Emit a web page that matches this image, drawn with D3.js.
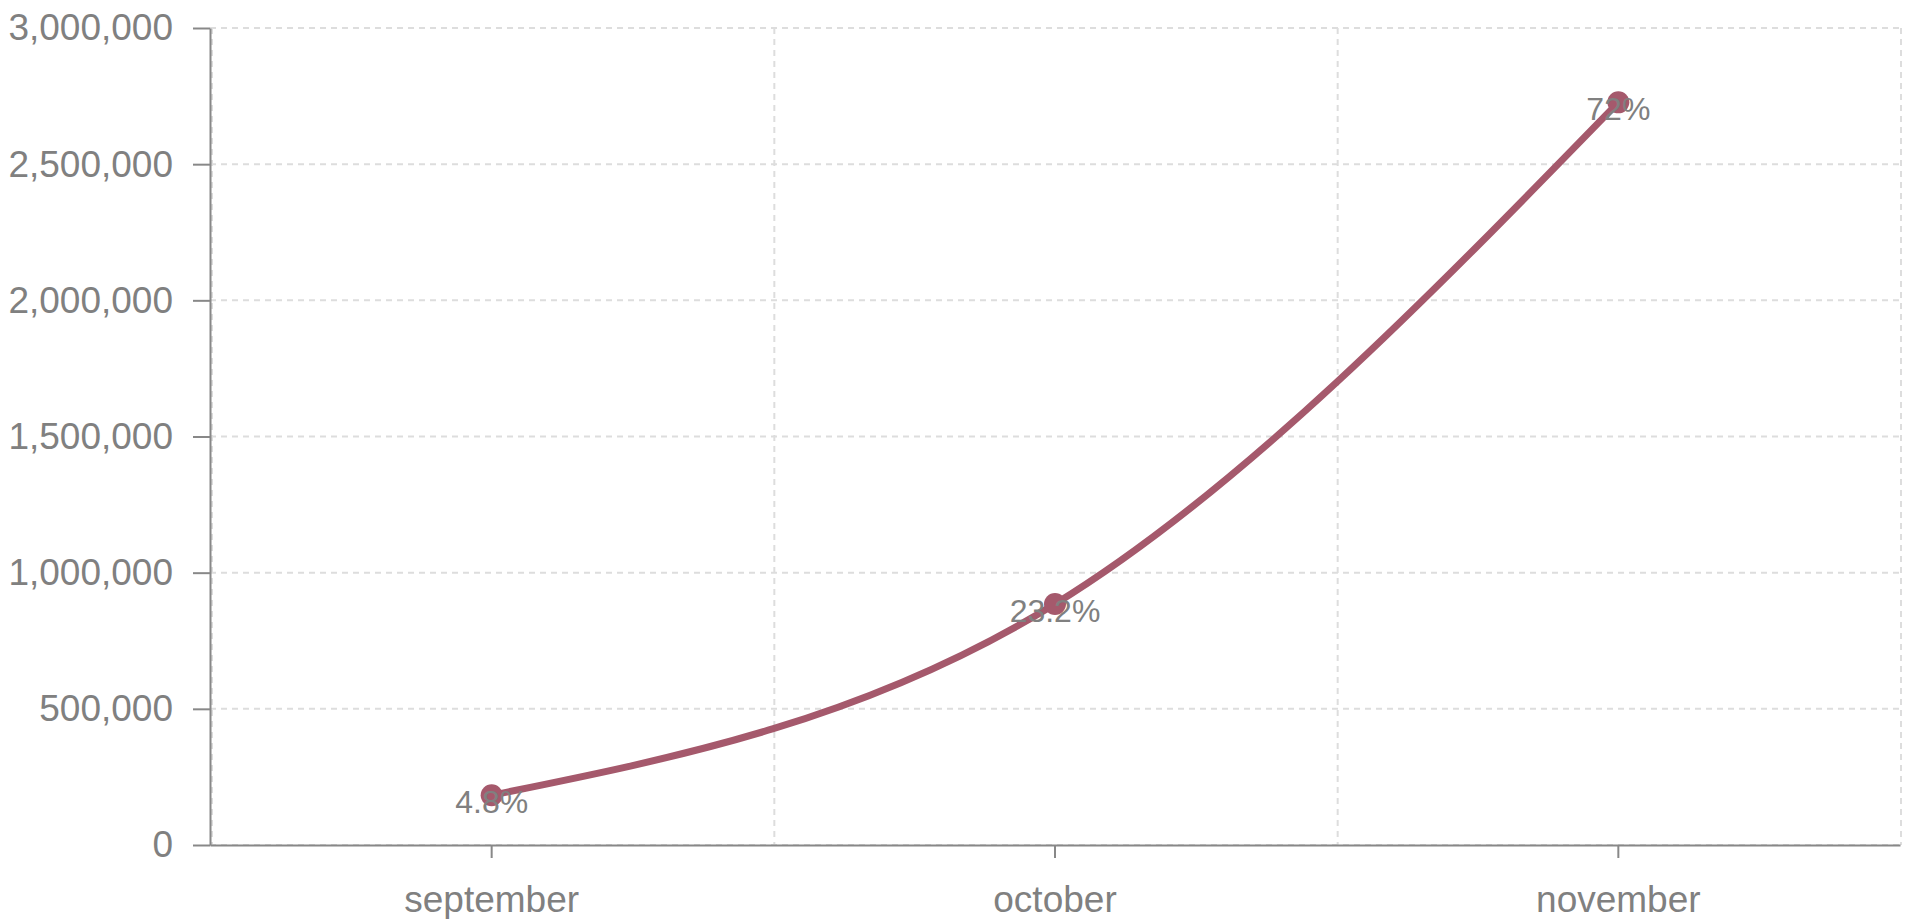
<!DOCTYPE html>
<html>
<head>
<meta charset="utf-8">
<script src="https://cdn.jsdelivr.net/npm/d3@7"></script>
<style>
  body { margin: 0; background: #fff; }
  svg text { font-family: "Liberation Sans", Arial, sans-serif; fill: #808080; }
  .axis path, .axis line { stroke: #888; stroke-width: 2; }
  .grid line { stroke: #ddd; stroke-width: 2; stroke-dasharray: 6,5; }
</style>
</head>
<body>
<svg id="chart1"></svg>
<script>
// chart values
let months = ["september", "october", "november"];
let users = [183000, 885000, 2727000];
let shares = ["4.8%", "23.2%", "72%"];
let yTicks = [0, 500000, 1000000, 1500000, 2000000, 2500000, 3000000];

let margin = [];
let xBand;
let yLinear;

document.addEventListener("DOMContentLoaded", (event) => {
  margin.width = 1915;
  margin.height = 919;
  margin.paddingLeft = 210;
  margin.paddingRight = 15;
  margin.paddingTop = 28;
  margin.paddingBottom = 74;

  let draw = new Draw();
  draw.render();
});

class Draw {
  createScale() {
    xBand = d3.scaleBand()
      .domain(months)
      .range([margin.paddingLeft, margin.width - margin.paddingRight])
      .padding(0);
    yLinear = d3.scaleLinear()
      .domain([0, 3000000])
      .range([margin.height - margin.paddingBottom, margin.paddingTop]);
  }
  render() {
    this.createScale();
    let svg = d3.select("#chart1")
      .attr("width", margin.width)
      .attr("height", margin.height);

    this.grid(svg);
    this.xAxis(svg);
    this.yAxis(svg);

    let cx = (d, i) => { return xBand(months[i]) + xBand.bandwidth() / 2; };
    let line = d3.line()
      .x(cx)
      .y((d) => { return yLinear(d); })
      .curve(d3.curveMonotoneX);

    svg.append("path")
      .datum(users)
      .attr("d", line)
      .attr("fill", "none")
      .attr("stroke", "#a5596c")
      .attr("stroke-width", 7)
      .attr("stroke-linecap", "round");

    svg.selectAll("circle.dot")
      .data(users)
      .enter()
      .append("circle")
        .attr("class", "dot")
        .attr("cx", cx)
        .attr("cy", (d) => { return yLinear(d); })
        .attr("r", 11)
        .attr("fill", "#a5596c");

    svg.selectAll("text.share")
      .data(users)
      .enter()
      .append("text")
        .attr("class", "share")
        .attr("x", cx)
        .attr("y", (d) => { return yLinear(d) + 18; })
        .style("text-anchor", "middle")
        .style("font-size", "32px")
        .text((d, i) => { return shares[i]; });
  }
  grid(svg) {
    let g = svg.append("g").attr("class", "grid");
    let x0 = margin.paddingLeft;
    let x1 = margin.width - margin.paddingRight;
    // horizontal dashes at every y tick
    g.selectAll("line.h")
      .data(yTicks)
      .enter()
      .append("line")
        .attr("class", "h")
        .attr("x1", x0)
        .attr("x2", x1)
        .attr("y1", (d) => { return yLinear(d); })
        .attr("y2", (d) => { return yLinear(d); });
    // vertical dashes on band edges
    let edges = months.map((m) => { return xBand(m); }).concat([x1]);
    g.selectAll("line.v")
      .data(edges)
      .enter()
      .append("line")
        .attr("class", "v")
        .attr("x1", (d, i) => { return i == 0 ? d + 2 : d + 1; })
        .attr("x2", (d, i) => { return i == 0 ? d + 2 : d + 1; })
        .attr("y1", yLinear(3000000))
        .attr("y2", yLinear(0));
  }
  xAxis(svg) {
    let axis = d3.axisBottom(xBand)
      .tickSize(13)
      .tickSizeOuter(0)
      .tickPadding(28);
    let g = svg.append("g")
      .attr("class", "axis")
      .attr("transform", "translate(0," + yLinear(0) + ")")
      .call(axis);
    g.selectAll("text").style("font-size", "37px");
  }
  yAxis(svg) {
    let axis = d3.axisLeft(yLinear)
      .tickValues(yTicks)
      .tickFormat(d3.format(","))
      .tickSize(17)
      .tickSizeOuter(0)
      .tickPadding(20);
    let g = svg.append("g")
      .attr("class", "axis")
      .attr("transform", "translate(" + margin.paddingLeft + ",0)")
      .call(axis);
    g.selectAll("text").style("font-size", "37px");
  }
}
</script>
</body>
</html>
